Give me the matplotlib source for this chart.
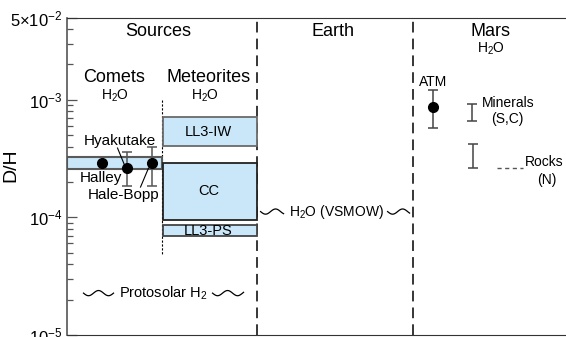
import matplotlib
matplotlib.use('Agg')
import matplotlib.pyplot as plt
from matplotlib.patches import Rectangle
import numpy as np

plt.rcParams['font.family'] = ['Liberation Sans', 'DejaVu Sans']
plt.rcParams['mathtext.fontset'] = 'custom'
plt.rcParams['mathtext.rm'] = 'Liberation Sans'
plt.rcParams['mathtext.it'] = 'Liberation Sans:italic'

# --- data (D/H values) ---
comet_names = ['Halley', 'Hyakutake', 'Hale-Bopp']
comet_dh = [2.88e-4, 2.64e-4, 2.91e-4]
comet_lo = [None, 1.85e-4, 1.85e-4]
comet_hi = [None, 3.62e-4, 3.98e-4]
comet_band = (2.57e-4, 3.24e-4)

meteorite_names = ['LL3-IW', 'CC', 'LL3-PS']
meteorite_lo = [4.04e-4, 9.5e-5, 6.9e-5]
meteorite_hi = [7.08e-4, 2.91e-4, 8.6e-5]

protosolar_h2 = 2.27e-5
vsmow = 1.12e-4

mars_names = ['ATM', 'Minerals', 'Rocks']
mars_dh = [8.72e-4, None, None]
mars_lo = [5.71e-4, 6.63e-4, 2.61e-4]
mars_hi = [1.21e-3, 9.19e-4, 4.2e-4]
rocks_n = 2.61e-4

ytick_vals = [1e-5, 1e-4, 1e-3, 5e-3]
ytick_labels = [r'$10^{-5}$', r'$10^{-4}$', r'$10^{-3}$', r'$5{\times}10^{-2}$']

# helper: pixel row -> D/H value (for placing labels)
def ypx(py):
    return 10 ** (np.log10(5e-3) - (py - 17.5) / 117.6)

fig = plt.figure(figsize=(5.66, 3.37), dpi=100)
ax = fig.add_axes([66.5/566, 2/337, 1 - 66.5/566 + 0.01, 317.5/337])
ax.set_yscale('log')
ax.set_ylim(1e-5, 5e-3)
ax.set_xlim(0, 505)
ax.set_xticks([])
ax.set_yticks(ytick_vals)
ax.set_yticklabels(ytick_labels, fontsize=12)
ax.tick_params(axis='y', which='major', direction='in', length=7, width=0.9, color='#555555', pad=3)
ax.tick_params(axis='y', which='minor', direction='in', length=4, width=0.9, color='#555555')
ax.spines['right'].set_visible(False)
ax.spines['left'].set_color('#555555')
ax.spines['bottom'].set_color('#333333')
ax.spines['top'].set_color('#333333')
ax.spines['left'].set_linewidth(1.2)
ax.set_ylabel('D/H', fontsize=14)
ax.yaxis.set_label_coords(-0.093, 0.535)

blue = '#c9e7f8'
edge = '#5a5a5a'

# section dividers
x_src_earth = 190
x_earth_mars = 346.5
x_com_met = 95
for xv in [x_src_earth, x_earth_mars]:
    ax.plot([xv, xv], [1e-5, 5e-3], color='black', lw=1.1, ls=(0, (7, 4)), zorder=1)
ax.plot([x_com_met, x_com_met], [ypx(100), ypx(255)], color='black', lw=0.8, ls=(0, (2, 1.5)), zorder=1)

# headers
hdr = dict(ha='center', va='center', fontsize=13)
ax.text(92, ypx(31), 'Sources', **hdr)
ax.text(266, ypx(31), 'Earth', **hdr)
ax.text(424, ypx(31), 'Mars', **hdr)
ax.text(424, ypx(49), r'H$_2$O', ha='center', va='center', fontsize=10)
ax.text(48, ypx(77), 'Comets', **hdr)
ax.text(48, ypx(96), r'H$_2$O', ha='center', va='center', fontsize=10)
ax.text(142, ypx(77), 'Meteorites', **hdr)
ax.text(138, ypx(96), r'H$_2$O', ha='center', va='center', fontsize=10)

# comet band
ax.add_patch(Rectangle((0, comet_band[0]), x_com_met, comet_band[1] - comet_band[0],
                       facecolor=blue, edgecolor=edge, lw=1.5, zorder=2))
comet_x = [35.7, 60, 85]
for cx, v, lo, hi in zip(comet_x, comet_dh, comet_lo, comet_hi):
    if lo is not None:
        ax.errorbar(cx, v, yerr=[[v - lo], [hi - v]], fmt='none', ecolor='#555555',
                    elinewidth=1.1, capsize=3.5, capthick=1.1, zorder=3)
    ax.plot(cx, v, 'o', color='black', ms=7, zorder=4)
ax.text(53, ypx(141), 'Hyakutake', ha='center', va='center', fontsize=11)
ax.plot([51, 58], [ypx(148), ypx(165)], color='black', lw=0.8, zorder=3)
ax.text(34, ypx(178), 'Halley', ha='center', va='center', fontsize=11)
ax.text(57, ypx(195), 'Hale-Bopp', ha='center', va='center', fontsize=11)
ax.plot([74, 82], [ypx(187), ypx(168)], color='black', lw=0.8, zorder=3)

# meteorite boxes
met_edges = ['#6a6a6a', '#222222', '#444444']
for name, lo, hi, ec in zip(meteorite_names, meteorite_lo, meteorite_hi, met_edges):
    ax.add_patch(Rectangle((x_com_met + 1, lo), x_src_earth - x_com_met - 1, hi - lo,
                           facecolor=blue, edgecolor=ec, lw=1.3, zorder=2))
    ax.text(142, np.sqrt(lo * hi), name, ha='center', va='center', fontsize=10.5, zorder=3)

# wavy reference levels
def wave(x0, x1, v):
    xs = np.linspace(x0, x1, 80)
    ys = 10 ** (np.log10(v) + 0.022 * np.sin(2 * np.pi * (xs - x0) / 20 + np.pi))
    ax.plot(xs, ys, color='black', lw=0.9, zorder=3)

wave(17, 47, protosolar_h2)
wave(146, 177, protosolar_h2)
ax.text(97, protosolar_h2, r'Protosolar H$_2$', ha='center', va='center', fontsize=10.5)
wave(194, 217, vsmow)
wave(321, 343, vsmow)
ax.text(270, vsmow, r'H$_2$O (VSMOW)', ha='center', va='center', fontsize=10)

# Mars
mars_x = [366.7, 405.7, 406.3]
for mx, v, lo, hi in zip(mars_x, mars_dh, mars_lo, mars_hi):
    mid = v if v is not None else np.sqrt(lo * hi)
    ax.errorbar(mx, mid, yerr=[[mid - lo], [hi - mid]], fmt='none', ecolor='#444444',
                elinewidth=1.1, capsize=3.5, capthick=1.1, zorder=3)
    if v is not None:
        ax.plot(mx, v, 'o', color='black', ms=7, zorder=4)
ax.text(366.7, ypx(82), 'ATM', ha='center', va='center', fontsize=10)
ax.text(415, ypx(102.5), 'Minerals', ha='left', va='center', fontsize=10)
ax.text(440.7, ypx(119), '(S,C)', ha='center', va='center', fontsize=10)
ax.plot([430, 456], [rocks_n, rocks_n], color='#555555', lw=1.0, ls=(0, (3, 2.5)))
ax.text(458, ypx(162), 'Rocks', ha='left', va='center', fontsize=10)
ax.text(480, ypx(180), '(N)', ha='center', va='center', fontsize=10)

plt.savefig('out.png', dpi=100)
